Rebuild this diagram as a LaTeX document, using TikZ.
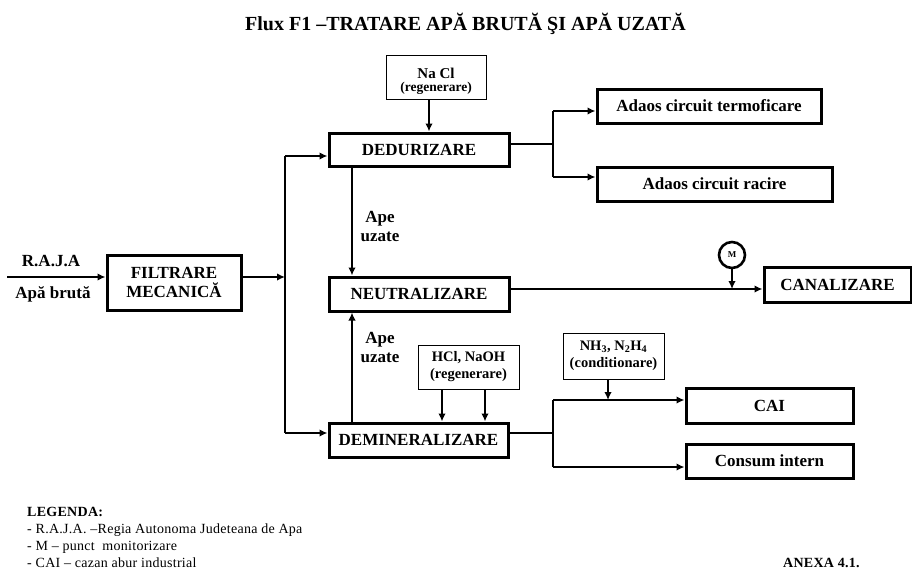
\documentclass[tikz,border=0pt]{standalone}
\usepackage{fontspec}
\setmainfont{Liberation Serif}
\usetikzlibrary{arrows.meta}
\begin{document}
\begin{tikzpicture}[x=1pt,y=-1pt,
  thickbox/.style={draw,line width=3pt,inner sep=0pt,align=center,font=\fontsize{17}{19}\selectfont\bfseries},
  thinbox/.style={draw,line width=1pt,inner sep=0pt,align=center,font=\fontsize{14.5}{17}\selectfont\bfseries},
  conn/.style={line width=2.8pt},
  arr/.style={conn,-{Latex[length=8pt,width=7.5pt]}},
  lbl/.style={inner sep=0pt,align=center,font=\fontsize{17}{19}\selectfont\bfseries},
  legtxt/.style={inner sep=0pt,anchor=west,font=\fontsize{14}{16}\selectfont\addfontfeatures{LetterSpace=2}}
]
\useasboundingbox (0,0) rectangle (912,570);
% title
\node[inner sep=0pt,font=\fontsize{20}{22}\selectfont\bfseries] (title) at (465.5,24) {Flux F1 –TRATARE APĂ BRUTĂ ŞI APĂ UZATĂ};
% boxes
\node[draw,line width=1pt,inner sep=0pt,minimum width=100pt,minimum height=44pt,text height=29pt,text depth=1pt,font=\bfseries] (nacl) at (436,77) {\shortstack{{\fontsize{15}{15}\selectfont Na Cl}\\{\fontsize{13.5}{14}\selectfont(regenerare)}}};
\node[thickbox,minimum width=180pt,minimum height=33pt] (dedur) at (419,149.5) {DEDURIZARE};
\node[thickbox,minimum width=224pt,minimum height=34pt] (term) at (709,106) {Adaos circuit termoficare};
\node[thickbox,minimum width=235pt,minimum height=34pt] (racire) at (714.5,184) {Adaos circuit racire};
\node[thickbox,minimum width=134pt,minimum height=55pt] (filtr) at (174,282.5) {FILTRARE\\MECANICĂ};
\node[thickbox,minimum width=180pt,minimum height=34pt] (neutr) at (419,294) {NEUTRALIZARE};
\node[draw,circle,line width=2.6pt,minimum size=26pt,inner sep=0pt,font=\fontsize{9}{10}\selectfont\bfseries] (m) at (732,255) {M};
\node[thickbox,minimum width=147pt,minimum height=35pt] (canal) at (837.5,284.5) {CANALIZARE};
\node[thinbox,minimum width=101pt,minimum height=44pt] (hcl) at (468.5,367) {HCl, NaOH\\(regenerare)};
\node[thinbox,minimum width=101pt,minimum height=46pt] (nh3) at (613.5,356) {NH\textsubscript{3}, N\textsubscript{2}H\textsubscript{4}\\(conditionare)};
\node[thickbox,minimum width=179pt,minimum height=34pt] (demin) at (418.5,440) {DEMINERALIZARE};
\node[thickbox,minimum width=167pt,minimum height=35pt] (cai) at (769.5,405.5) {CAI};
\node[thickbox,minimum width=167pt,minimum height=34pt] (consum) at (769.5,461) {Consum intern};
% labels
\node[lbl] (raja) at (51,261) {R.A.J.A};
\node[lbl] (bruta) at (53,294) {Apă brută};
\node[lbl] (ape1) at (380,226) {Ape\\uzate};
\node[lbl] (ape2) at (380,347) {Ape\\uzate};
% coordinates
\coordinate (in) at (7,277);
\coordinate (bus) at (285,277);
\coordinate (bustop) at (285,156);
\coordinate (busbot) at (285,433);
\coordinate (nx) at (429,0);
\coordinate (dx) at (352,0);
\coordinate (br1) at (553,144);
\coordinate (br1t) at (553,111);
\coordinate (br1b) at (553,177);
\coordinate (nline) at (0,289);
\coordinate (br2) at (553,433);
\coordinate (br2t) at (553,400);
\coordinate (br2b) at (553,467);
\coordinate (h1) at (442,0);
\coordinate (h2) at (485,0);
\coordinate (nhx) at (608,0);
% connectors
\draw[arr] (in) -- (in -| filtr.west);
\draw[arr] (bus -| filtr.east) -- (bus);
\draw[conn] (bustop) -- (busbot);
\draw[arr] (bustop) -- (bustop -| dedur.west);
\draw[arr] (busbot) -- (busbot -| demin.west);
\draw[arr] (nx |- nacl.south) -- (nx |- dedur.north);
\draw[arr] (dx |- dedur.south) -- (dx |- neutr.north);
\draw[arr] (dx |- demin.north) -- (dx |- neutr.south);
\draw[conn] (br1 -| dedur.east) -- (br1);
\draw[conn] (br1t) -- (br1b);
\draw[arr] (br1t) -- (br1t -| term.west);
\draw[arr] (br1b) -- (br1b -| racire.west);
\draw[arr] (nline -| neutr.east) -- (nline -| canal.west);
\draw[arr] (m.south) -- (m |- nline);
\draw[arr] (h1 |- hcl.south) -- (h1 |- demin.north);
\draw[arr] (h2 |- hcl.south) -- (h2 |- demin.north);
\draw[conn] (br2 -| demin.east) -- (br2);
\draw[conn] (br2t) -- (br2b);
\draw[arr] (br2t) -- (br2t -| cai.west);
\draw[arr] (br2b) -- (br2b -| consum.west);
\draw[arr] (nhx |- nh3.south) -- (nhx |- br2t);
% legend
\node[legtxt,font=\fontsize{14}{16}\selectfont\bfseries\addfontfeatures{LetterSpace=2}] (leg0) at (27,512) {LEGENDA:};
\node[legtxt] (leg1) at (27,530) {- R.A.J.A. –Regia Autonoma Judeteana de Apa};
\node[legtxt] (leg2) at (27,547) {- M – punct\ \ monitorizare};
\node[legtxt] (leg3) at (27,563) {- CAI – cazan abur industrial};
\node[legtxt,font=\fontsize{14}{16}\selectfont\bfseries\addfontfeatures{LetterSpace=2}] (anexa) at (783,563) {ANEXA 4.1.};
\end{tikzpicture}
\end{document}
